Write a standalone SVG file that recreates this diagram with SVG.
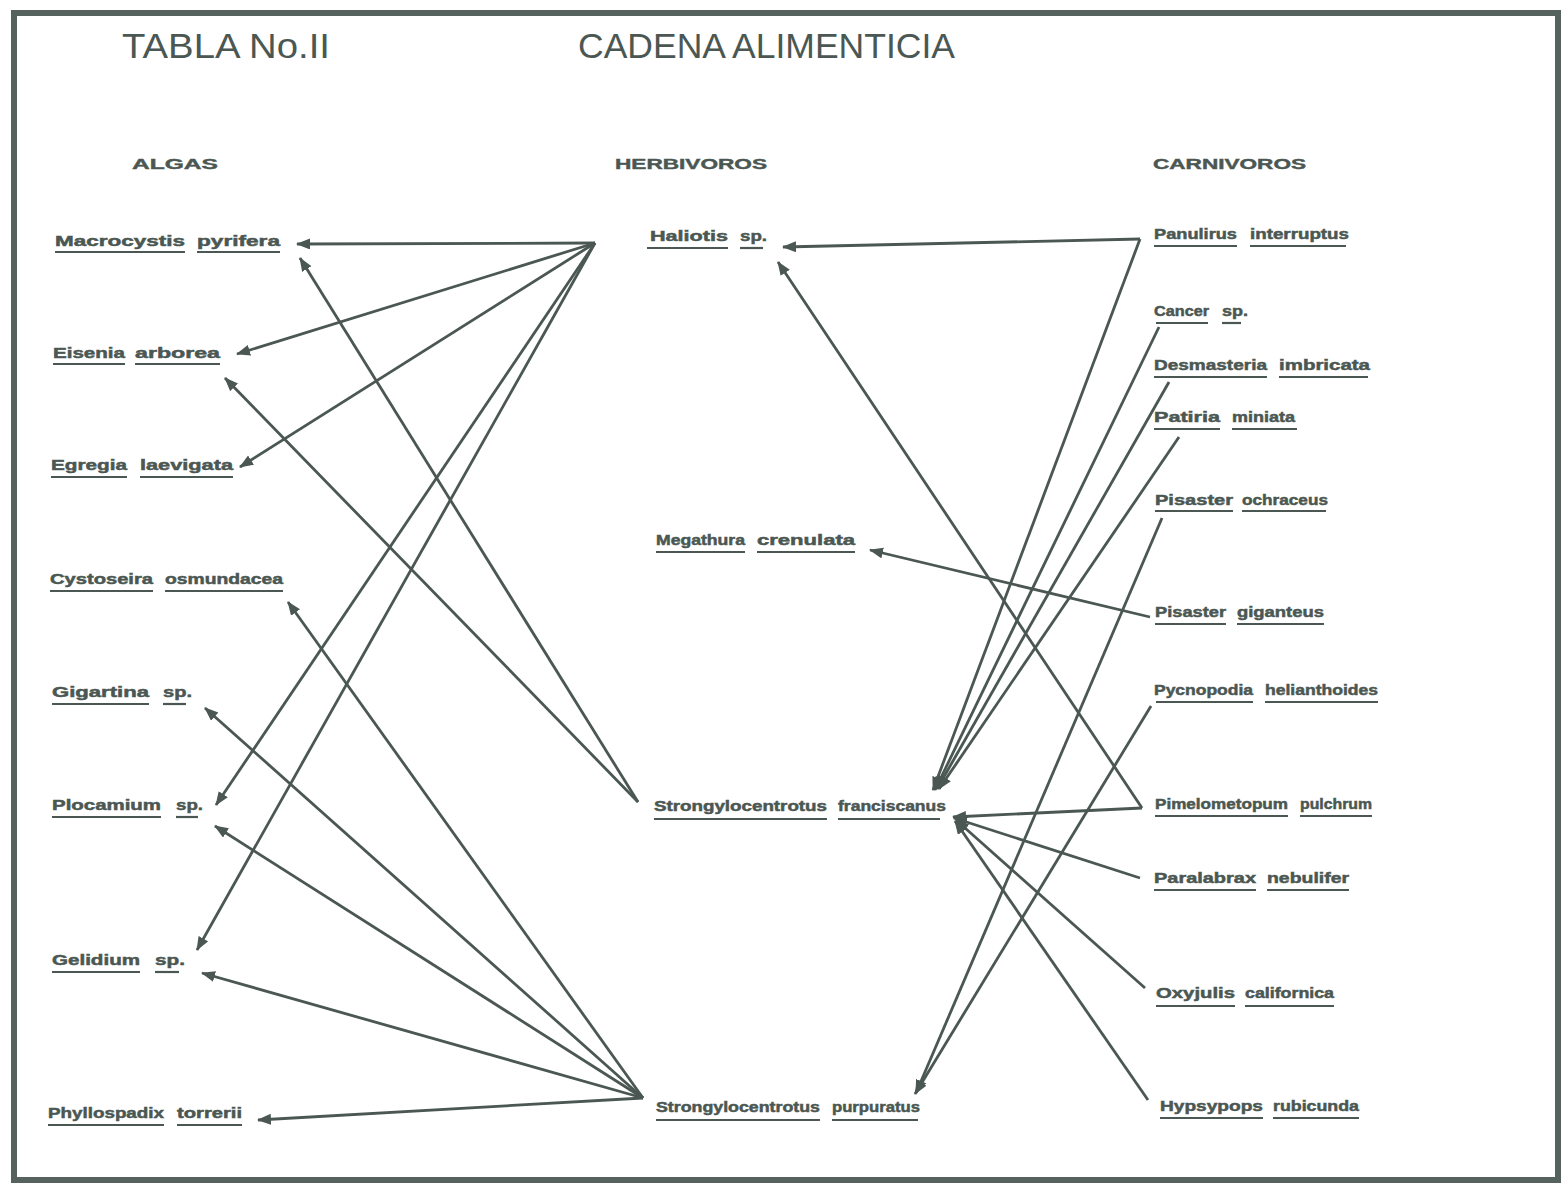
<svg xmlns="http://www.w3.org/2000/svg" width="1566" height="1188" viewBox="0 0 1566 1188">
<defs>
<style>
.t{font-family:"Liberation Sans",Arial,sans-serif;font-weight:bold;font-size:15px;fill:#4b5752;stroke:#4b5752;stroke-width:0.5}
.h{font-family:"Liberation Sans",Arial,sans-serif;font-weight:bold;font-size:14px;fill:#4b5752;stroke:#4b5752;stroke-width:0.4}
.ti{font-family:"Liberation Sans",Arial,sans-serif;font-size:35px;fill:#4b5752}
.u{stroke:#4b5752;stroke-width:2.2}
.c line{stroke:#4b5752;stroke-width:2.8;fill:none}
.a{marker-end:url(#arr)}
</style>
<marker id="arr" markerUnits="userSpaceOnUse" markerWidth="15" markerHeight="12" refX="13" refY="5.5" orient="auto">
<path d="M0,0 L14,5.5 L0,11 z" fill="#4b5752"/>
</marker>
</defs>
<rect width="1566" height="1188" fill="#ffffff"/>
<rect x="14" y="13" width="1544" height="1167" fill="none" stroke="#55625d" stroke-width="6"/>

<g id="titles">
<text class="ti" x="122" y="58" textLength="208" lengthAdjust="spacingAndGlyphs">TABLA No.II</text>
<text class="ti" x="578" y="58" textLength="377" lengthAdjust="spacingAndGlyphs">CADENA ALIMENTICIA</text>
<text class="h" x="132" y="169" textLength="86" lengthAdjust="spacingAndGlyphs">ALGAS</text>
<text class="h" x="615" y="169" textLength="152" lengthAdjust="spacingAndGlyphs">HERBIVOROS</text>
<text class="h" x="1153" y="169" textLength="153" lengthAdjust="spacingAndGlyphs">CARNIVOROS</text>
</g>

<g id="connectors" class="c">
<line class="a" x1="595" y1="243" x2="297" y2="244"/>
<line class="a" x1="595" y1="243" x2="237" y2="354"/>
<line class="a" x1="595" y1="243" x2="240" y2="467"/>
<line class="a" x1="595" y1="243" x2="216" y2="805"/>
<line class="a" x1="595" y1="243" x2="197" y2="950"/>
<line class="a" x1="638" y1="802" x2="300" y2="258"/>
<line class="a" x1="638" y1="802" x2="225" y2="378"/>
<line class="a" x1="643" y1="1098" x2="288" y2="602"/>
<line class="a" x1="643" y1="1098" x2="205" y2="708"/>
<line class="a" x1="643" y1="1098" x2="215" y2="826"/>
<line class="a" x1="643" y1="1098" x2="202" y2="973"/>
<line class="a" x1="643" y1="1098" x2="258" y2="1120"/>
<line class="a" x1="1140" y1="239" x2="783" y2="247"/>
<line class="a" x1="1140" y1="239" x2="933" y2="790"/>
<line class="a" x1="1159" y1="327" x2="935" y2="790"/>
<line class="a" x1="1169" y1="382" x2="937" y2="789"/>
<line class="a" x1="1179" y1="437" x2="939" y2="789"/>
<line class="a" x1="1162" y1="518" x2="916" y2="1093"/>
<line class="a" x1="1151" y1="706" x2="915" y2="1094"/>
<line class="a" x1="1150" y1="617" x2="870" y2="550"/>
<line class="a" x1="1142" y1="808" x2="778" y2="262"/>
<line class="a" x1="1142" y1="808" x2="953" y2="817"/>
<line class="a" x1="1140" y1="878" x2="954" y2="818"/>
<line class="a" x1="1145" y1="988" x2="956" y2="820"/>
<line class="a" x1="1148" y1="1100" x2="955" y2="821"/>
</g>

<g id="macrocystis"><text class="t" x="55" y="246" textLength="130" lengthAdjust="spacingAndGlyphs">Macrocystis</text><text class="t" x="197" y="246" textLength="83" lengthAdjust="spacingAndGlyphs">pyrifera</text><line class="u" x1="55" y1="252" x2="185" y2="252"/><line class="u" x1="197" y1="252" x2="280" y2="252"/></g>
<g id="eisenia"><text class="t" x="53" y="358" textLength="72" lengthAdjust="spacingAndGlyphs">Eisenia</text><text class="t" x="135" y="358" textLength="85" lengthAdjust="spacingAndGlyphs">arborea</text><line class="u" x1="53" y1="364" x2="125" y2="364"/><line class="u" x1="135" y1="364" x2="220" y2="364"/></g>
<g id="egregia"><text class="t" x="51" y="470" textLength="76" lengthAdjust="spacingAndGlyphs">Egregia</text><text class="t" x="140" y="470" textLength="93" lengthAdjust="spacingAndGlyphs">laevigata</text><line class="u" x1="51" y1="477" x2="127" y2="477"/><line class="u" x1="140" y1="477" x2="233" y2="477"/></g>
<g id="cystoseira"><text class="t" x="50" y="584" textLength="103" lengthAdjust="spacingAndGlyphs">Cystoseira</text><text class="t" x="165" y="584" textLength="118" lengthAdjust="spacingAndGlyphs">osmundacea</text><line class="u" x1="50" y1="591" x2="153" y2="591"/><line class="u" x1="165" y1="591" x2="283" y2="591"/></g>
<g id="gigartina"><text class="t" x="52" y="697" textLength="97" lengthAdjust="spacingAndGlyphs">Gigartina</text><text class="t" x="163" y="697" textLength="29" lengthAdjust="spacingAndGlyphs">sp.</text><line class="u" x1="52" y1="704" x2="149" y2="704"/><line class="u" x1="163" y1="704" x2="186" y2="704"/></g>
<g id="plocamium"><text class="t" x="52" y="810" textLength="109" lengthAdjust="spacingAndGlyphs">Plocamium</text><text class="t" x="176" y="810" textLength="27" lengthAdjust="spacingAndGlyphs">sp.</text><line class="u" x1="52" y1="817" x2="161" y2="817"/><line class="u" x1="176" y1="817" x2="198" y2="817"/></g>
<g id="gelidium"><text class="t" x="52" y="965" textLength="88" lengthAdjust="spacingAndGlyphs">Gelidium</text><text class="t" x="155" y="965" textLength="30" lengthAdjust="spacingAndGlyphs">sp.</text><line class="u" x1="52" y1="972" x2="140" y2="972"/><line class="u" x1="155" y1="972" x2="179" y2="972"/></g>
<g id="phyllospadix"><text class="t" x="48" y="1118" textLength="116" lengthAdjust="spacingAndGlyphs">Phyllospadix</text><text class="t" x="177" y="1118" textLength="65" lengthAdjust="spacingAndGlyphs">torrerii</text><line class="u" x1="48" y1="1125" x2="164" y2="1125"/><line class="u" x1="177" y1="1125" x2="242" y2="1125"/></g>

<g id="haliotis"><text class="t" x="650" y="241" textLength="78" lengthAdjust="spacingAndGlyphs">Haliotis</text><text class="t" x="740" y="241" textLength="27" lengthAdjust="spacingAndGlyphs">sp.</text><line class="u" x1="647" y1="248" x2="728" y2="248"/><line class="u" x1="740" y1="248" x2="763" y2="248"/></g>
<g id="megathura"><text class="t" x="656" y="545" textLength="89" lengthAdjust="spacingAndGlyphs">Megathura</text><text class="t" x="757" y="545" textLength="98" lengthAdjust="spacingAndGlyphs">crenulata</text><line class="u" x1="656" y1="552" x2="745" y2="552"/><line class="u" x1="757" y1="552" x2="855" y2="552"/></g>
<g id="s-franciscanus"><text class="t" x="654" y="811" textLength="173" lengthAdjust="spacingAndGlyphs">Strongylocentrotus</text><text class="t" x="838" y="811" textLength="108" lengthAdjust="spacingAndGlyphs">franciscanus</text><line class="u" x1="654" y1="819" x2="827" y2="819"/><line class="u" x1="838" y1="819" x2="940" y2="819"/></g>
<g id="s-purpuratus"><text class="t" x="656" y="1112" textLength="164" lengthAdjust="spacingAndGlyphs">Strongylocentrotus</text><text class="t" x="832" y="1112" textLength="88" lengthAdjust="spacingAndGlyphs">purpuratus</text><line class="u" x1="656" y1="1120" x2="820" y2="1120"/><line class="u" x1="832" y1="1120" x2="918" y2="1120"/></g>

<g id="panulirus"><text class="t" x="1154" y="239" textLength="83" lengthAdjust="spacingAndGlyphs">Panulirus</text><text class="t" x="1250" y="239" textLength="99" lengthAdjust="spacingAndGlyphs">interruptus</text><line class="u" x1="1154" y1="246" x2="1237" y2="246"/><line class="u" x1="1250" y1="246" x2="1346" y2="246"/></g>
<g id="cancer"><text class="t" x="1154" y="316" textLength="55" lengthAdjust="spacingAndGlyphs">Cancer</text><text class="t" x="1222" y="316" textLength="26" lengthAdjust="spacingAndGlyphs">sp.</text><line class="u" x1="1156" y1="323" x2="1208" y2="323"/><line class="u" x1="1222" y1="323" x2="1241" y2="323"/></g>
<g id="desmasteria"><text class="t" x="1154" y="370" textLength="113" lengthAdjust="spacingAndGlyphs">Desmasteria</text><text class="t" x="1279" y="370" textLength="91" lengthAdjust="spacingAndGlyphs">imbricata</text><line class="u" x1="1154" y1="377" x2="1267" y2="377"/><line class="u" x1="1279" y1="377" x2="1368" y2="377"/></g>
<g id="patiria"><text class="t" x="1154" y="422" textLength="66" lengthAdjust="spacingAndGlyphs">Patiria</text><text class="t" x="1232" y="422" textLength="63" lengthAdjust="spacingAndGlyphs">miniata</text><line class="u" x1="1154" y1="429" x2="1220" y2="429"/><line class="u" x1="1232" y1="429" x2="1297" y2="429"/></g>
<g id="pisaster-ochraceus"><text class="t" x="1155" y="505" textLength="78" lengthAdjust="spacingAndGlyphs">Pisaster</text><text class="t" x="1242" y="505" textLength="86" lengthAdjust="spacingAndGlyphs">ochraceus</text><line class="u" x1="1155" y1="511" x2="1233" y2="511"/><line class="u" x1="1242" y1="511" x2="1326" y2="511"/></g>
<g id="pisaster-giganteus"><text class="t" x="1155" y="617" textLength="71" lengthAdjust="spacingAndGlyphs">Pisaster</text><text class="t" x="1237" y="617" textLength="87" lengthAdjust="spacingAndGlyphs">giganteus</text><line class="u" x1="1155" y1="624" x2="1226" y2="624"/><line class="u" x1="1237" y1="624" x2="1324" y2="624"/></g>
<g id="pycnopodia"><text class="t" x="1154" y="695" textLength="99" lengthAdjust="spacingAndGlyphs">Pycnopodia</text><text class="t" x="1265" y="695" textLength="113" lengthAdjust="spacingAndGlyphs">helianthoides</text><line class="u" x1="1156" y1="702" x2="1253" y2="702"/><line class="u" x1="1265" y1="702" x2="1378" y2="702"/></g>
<g id="pimelometopon"><text class="t" x="1155" y="809" textLength="133" lengthAdjust="spacingAndGlyphs">Pimelometopum</text><text class="t" x="1300" y="809" textLength="72" lengthAdjust="spacingAndGlyphs">pulchrum</text><line class="u" x1="1155" y1="816" x2="1288" y2="816"/><line class="u" x1="1300" y1="816" x2="1372" y2="816"/></g>
<g id="paralabrax"><text class="t" x="1154" y="883" textLength="102" lengthAdjust="spacingAndGlyphs">Paralabrax</text><text class="t" x="1267" y="883" textLength="82" lengthAdjust="spacingAndGlyphs">nebulifer</text><line class="u" x1="1154" y1="890" x2="1256" y2="890"/><line class="u" x1="1267" y1="890" x2="1349" y2="890"/></g>
<g id="oxyjulis"><text class="t" x="1156" y="998" textLength="79" lengthAdjust="spacingAndGlyphs">Oxyjulis</text><text class="t" x="1245" y="998" textLength="89" lengthAdjust="spacingAndGlyphs">californica</text><line class="u" x1="1156" y1="1006" x2="1235" y2="1006"/><line class="u" x1="1245" y1="1006" x2="1334" y2="1006"/></g>
<g id="hypsypops"><text class="t" x="1160" y="1111" textLength="103" lengthAdjust="spacingAndGlyphs">Hypsypops</text><text class="t" x="1273" y="1111" textLength="86" lengthAdjust="spacingAndGlyphs">rubicunda</text><line class="u" x1="1160" y1="1118" x2="1263" y2="1118"/><line class="u" x1="1273" y1="1118" x2="1359" y2="1118"/></g>
</svg>
